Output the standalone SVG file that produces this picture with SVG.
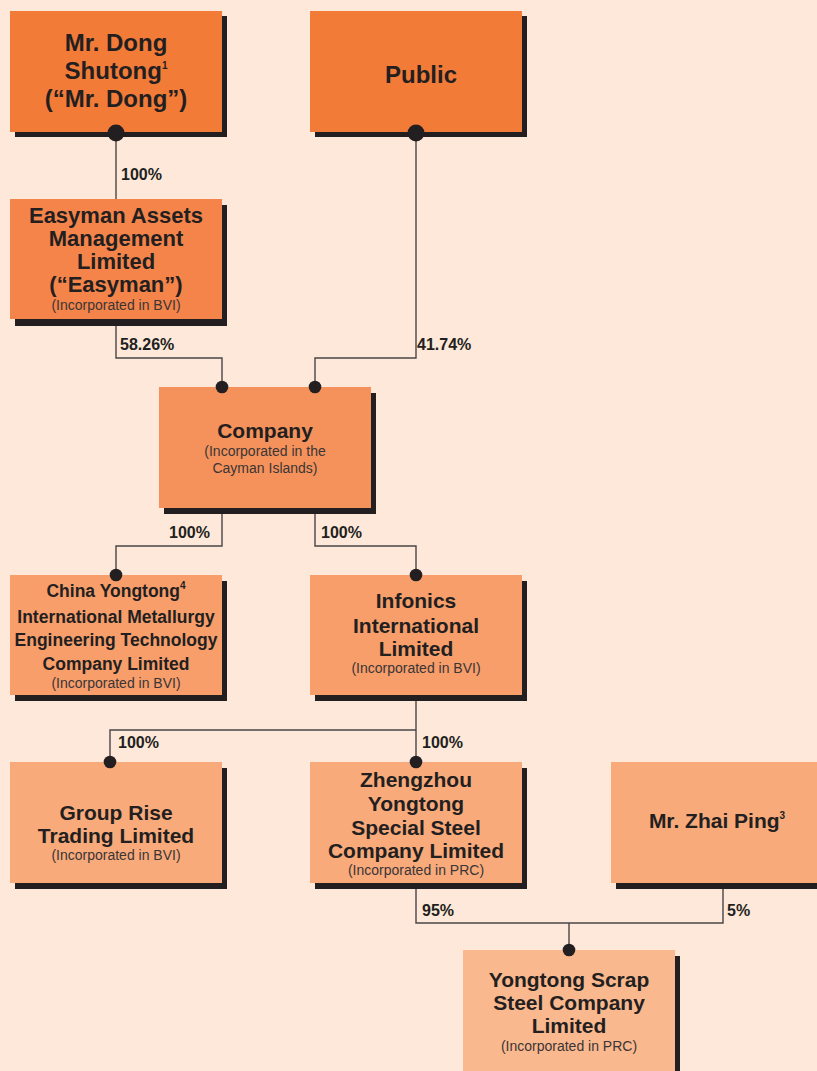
<svg xmlns="http://www.w3.org/2000/svg" width="817" height="1071" viewBox="0 0 817 1071">
<defs>
<style>
.bg{fill:#FDE8D9}
.sh{fill:#231F20}
.c1{fill:#F37B38}
.c2{fill:#F4844A}
.c3{fill:#F5925B}
.c4{fill:#F79E6B}
.c5{fill:#F8AA7B}
.c6{fill:#FAB88F}
text{font-family:"Liberation Sans",Arial,Helvetica,sans-serif;fill:#231F20;text-anchor:middle}
.t24{font-size:24px;font-weight:bold}
.t23{font-size:22px;font-weight:bold}
.t21{font-size:21px;font-weight:bold}
.t17{font-size:17.5px;font-weight:bold}
.sub{font-size:14px;fill:#3a3536}
.pct{font-size:16px;font-weight:bold;text-anchor:start}
.ln{fill:none;stroke:#4a4546;stroke-width:1.4}
.dot{fill:#231F20}
</style>
</defs>
<rect class="bg" x="0" y="0" width="817" height="1071"/>

<g id="mr-dong">
<rect class="sh" x="15" y="16" width="212" height="121"/>
<rect class="c1" x="10" y="11" width="212" height="121"/>
<text class="t24" x="116" y="51">Mr. Dong</text>
<text class="t24" x="116" y="79">Shutong<tspan font-size="10" dy="-10">1</tspan></text>
<text class="t24" x="116" y="107">(“Mr. Dong”)</text>
</g>

<g id="public">
<rect class="sh" x="315" y="16" width="212" height="121"/>
<rect class="c1" x="310" y="11" width="212" height="121"/>
<text class="t24" x="421" y="83">Public</text>
</g>

<g id="easyman">
<rect class="sh" x="15" y="205" width="212" height="121"/>
<rect class="c2" x="10" y="199" width="212" height="120"/>
<text class="t23" x="116" y="223">Easyman Assets</text>
<text class="t23" x="116" y="246">Management</text>
<text class="t23" x="116" y="269">Limited</text>
<text class="t23" x="116" y="292">(“Easyman”)</text>
<text class="sub" x="116" y="310">(Incorporated in BVI)</text>
</g>

<g id="company">
<rect class="sh" x="164" y="393" width="212" height="121"/>
<rect class="c3" x="159" y="387" width="212" height="121"/>
<text class="t21" x="265" y="438">Company</text>
<text class="sub" x="265" y="456">(Incorporated in the</text>
<text class="sub" x="265" y="473">Cayman Islands)</text>
</g>

<g id="china-yongtong">
<rect class="sh" x="15" y="581" width="212" height="120"/>
<rect class="c4" x="10" y="575" width="212" height="120"/>
<text class="t17" x="116" y="597">China Yongtong<tspan font-size="10" dy="-8">4</tspan></text>
<text class="t17" x="116" y="623">International Metallurgy</text>
<text class="t17" x="116" y="646">Engineering Technology</text>
<text class="t17" x="116" y="670">Company Limited</text>
<text class="sub" x="116" y="688">(Incorporated in BVI)</text>
</g>

<g id="infonics">
<rect class="sh" x="315" y="581" width="212" height="120"/>
<rect class="c4" x="310" y="575" width="212" height="120"/>
<text class="t21" x="416" y="608">Infonics</text>
<text class="t21" x="416" y="633">International</text>
<text class="t21" x="416" y="656">Limited</text>
<text class="sub" x="416" y="673">(Incorporated in BVI)</text>
</g>

<g id="group-rise">
<rect class="sh" x="15" y="768" width="212" height="121"/>
<rect class="c5" x="10" y="762" width="212" height="121"/>
<text class="t21" x="116" y="820">Group Rise</text>
<text class="t21" x="116" y="843">Trading Limited</text>
<text class="sub" x="116" y="860">(Incorporated in BVI)</text>
</g>

<g id="zhengzhou">
<rect class="sh" x="315" y="768" width="212" height="121"/>
<rect class="c5" x="310" y="762" width="212" height="121"/>
<text class="t21" x="416" y="787">Zhengzhou</text>
<text class="t21" x="416" y="811">Yongtong</text>
<text class="t21" x="416" y="835">Special Steel</text>
<text class="t21" x="416" y="858">Company Limited</text>
<text class="sub" x="416" y="875">(Incorporated in PRC)</text>
</g>

<g id="zhai-ping">
<rect class="sh" x="616" y="768" width="212" height="121"/>
<rect class="c5" x="611" y="762" width="212" height="121"/>
<text class="t21" x="717" y="828">Mr. Zhai Ping<tspan font-size="10" dy="-9">3</tspan></text>
</g>

<g id="yongtong-scrap">
<rect class="sh" x="468" y="956" width="212" height="121"/>
<rect class="c6" x="463" y="950" width="212" height="121"/>
<text class="t21" x="569" y="987">Yongtong Scrap</text>
<text class="t21" x="569" y="1010">Steel Company</text>
<text class="t21" x="569" y="1033">Limited</text>
<text class="sub" x="569" y="1051">(Incorporated in PRC)</text>
</g>

<g id="connectors">
<path class="ln" d="M116,137 V199"/>
<path class="ln" d="M416,137 V358 H315 V387"/>
<path class="ln" d="M116,326 V358 H222 V387"/>
<path class="ln" d="M222,514 V546 H116 V575"/>
<path class="ln" d="M315,514 V546 H416 V575"/>
<path class="ln" d="M416,701 V762"/>
<path class="ln" d="M416,730 H110 V762"/>
<path class="ln" d="M416,889 V923 H723 V889"/>
<path class="ln" d="M569,923 V950"/>
<circle class="dot" cx="116" cy="133" r="8.5"/>
<circle class="dot" cx="416" cy="133" r="8.5"/>
<circle class="dot" cx="222" cy="387" r="6.3"/>
<circle class="dot" cx="315" cy="387" r="6.3"/>
<circle class="dot" cx="116" cy="575" r="6.3"/>
<circle class="dot" cx="416" cy="575" r="6.3"/>
<circle class="dot" cx="110" cy="762" r="6.3"/>
<circle class="dot" cx="416" cy="762" r="6.3"/>
<circle class="dot" cx="569" cy="950" r="6.3"/>
<text class="pct" x="121" y="180">100%</text>
<text class="pct" x="120" y="350">58.26%</text>
<text class="pct" x="417" y="350">41.74%</text>
<text class="pct" x="169" y="538">100%</text>
<text class="pct" x="321" y="538">100%</text>
<text class="pct" x="118" y="748">100%</text>
<text class="pct" x="422" y="748">100%</text>
<text class="pct" x="422" y="916">95%</text>
<text class="pct" x="727" y="916">5%</text>
</g>
</svg>
